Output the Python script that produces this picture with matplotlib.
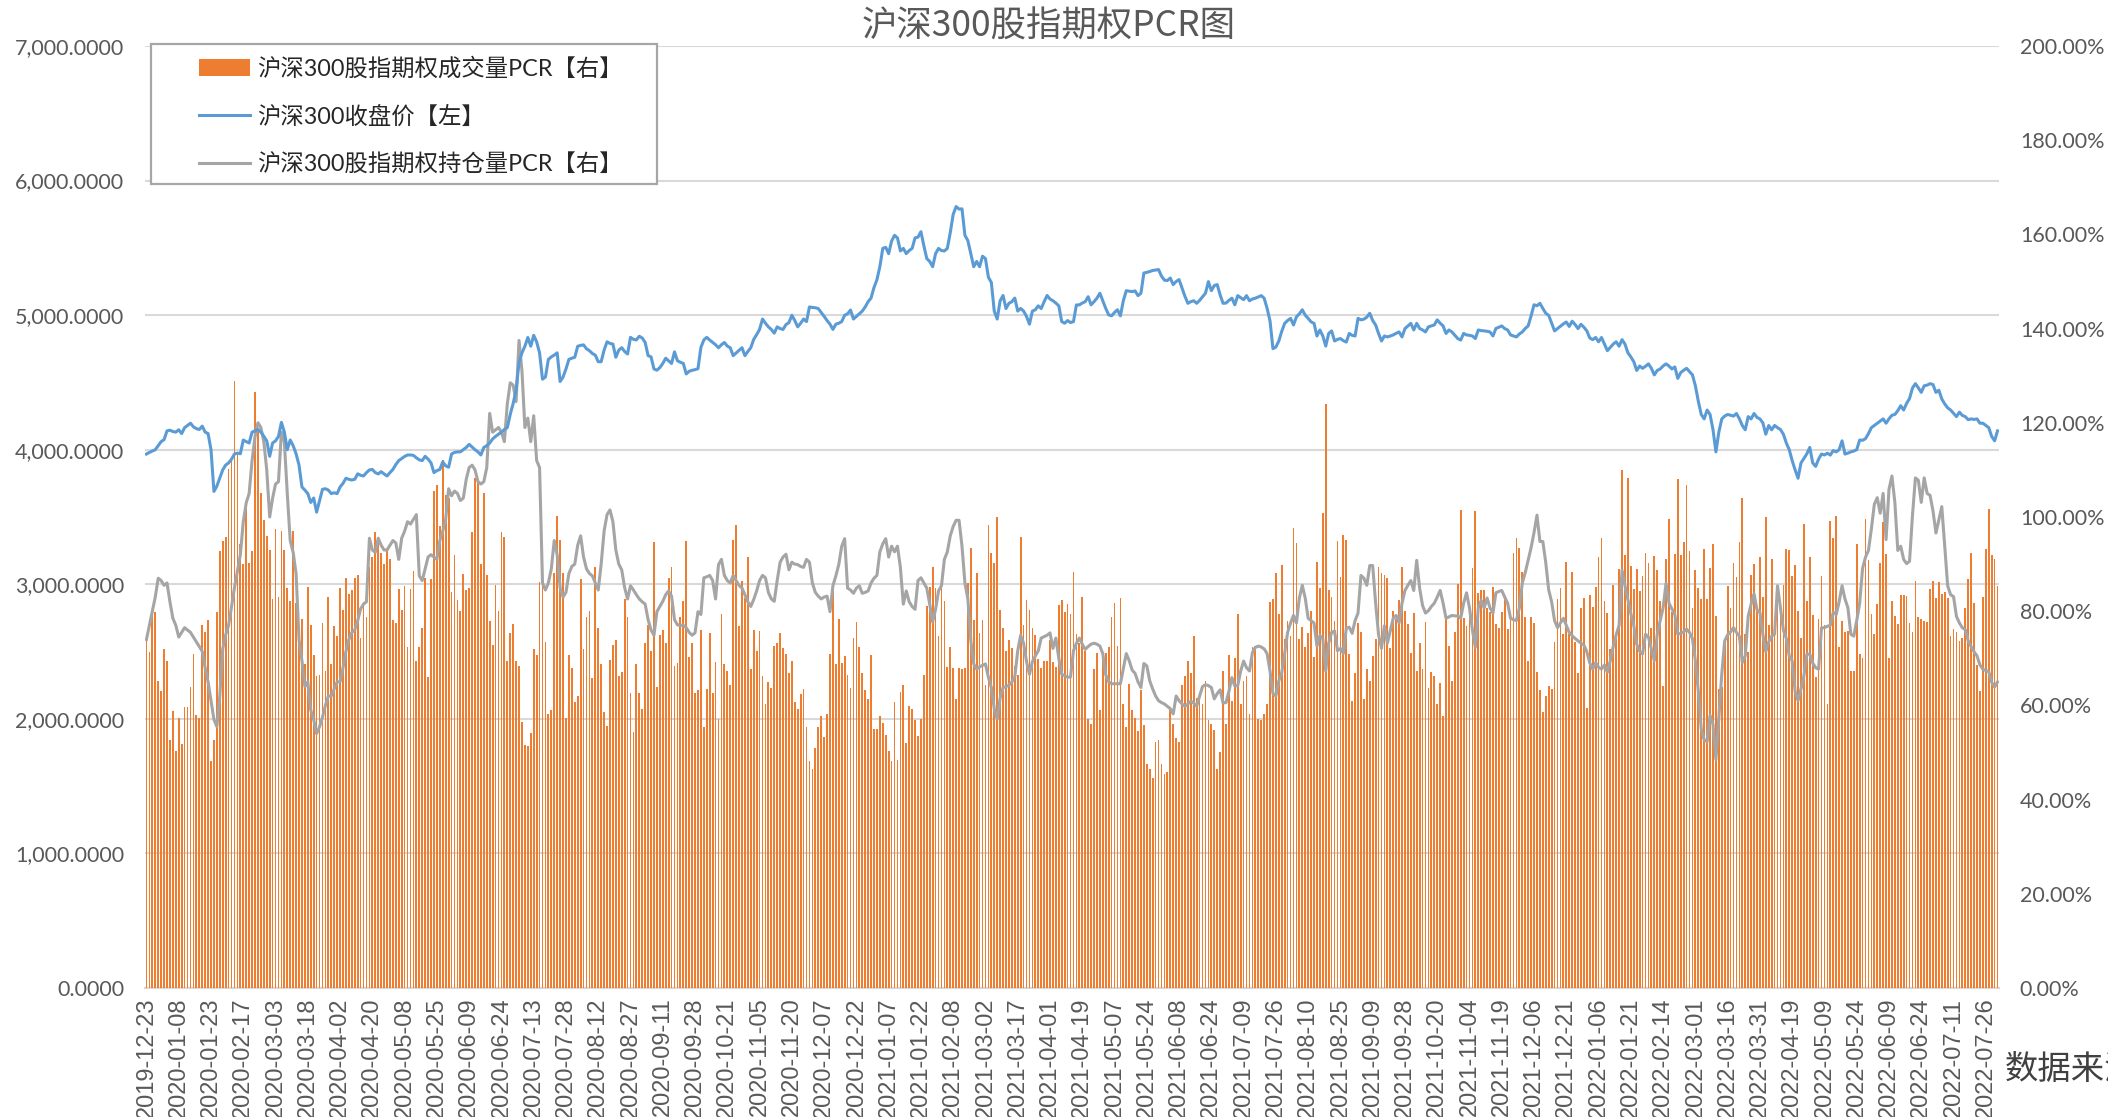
import numpy as np
import matplotlib
matplotlib.use('Agg')
from matplotlib import pyplot as plt
from matplotlib.patches import Rectangle
from matplotlib.ticker import FuncFormatter


# x axis: one category per trading day, a label every 11th day
tick_labels = [
    '2019-12-23', '2020-01-08', '2020-01-23', '2020-02-17', '2020-03-03', '2020-03-18',
    '2020-04-02', '2020-04-20', '2020-05-08', '2020-05-25', '2020-06-09', '2020-06-24',
    '2020-07-13', '2020-07-28', '2020-08-12', '2020-08-27', '2020-09-11', '2020-09-28',
    '2020-10-21', '2020-11-05', '2020-11-20', '2020-12-07', '2020-12-22', '2021-01-07',
    '2021-01-22', '2021-02-08', '2021-03-02', '2021-03-17', '2021-04-01', '2021-04-19',
    '2021-05-07', '2021-05-24', '2021-06-08', '2021-06-24', '2021-07-09', '2021-07-26',
    '2021-08-10', '2021-08-25', '2021-09-09', '2021-09-28', '2021-10-20', '2021-11-04',
    '2021-11-19', '2021-12-06', '2021-12-21', '2022-01-06', '2022-01-21', '2022-02-14',
    '2022-03-01', '2022-03-16', '2022-03-31', '2022-04-19', '2022-05-09', '2022-05-24',
    '2022-06-09', '2022-06-24', '2022-07-11', '2022-07-26',
]
label_step = 11

# 沪深300收盘价 (left axis)
close_price = [
    3968, 3980, 3990, 4000, 4030, 4060, 4075, 4140, 4145, 4135,
    4131, 4148, 4120, 4164, 4180, 4197, 4170, 4157, 4150, 4175,
    4131, 4120, 4000, 3690, 3730, 3790, 3850, 3886, 3902, 3930,
    3968, 3975, 3970, 4072, 4060, 4050, 4131, 4140, 4150, 4131,
    4100, 4066, 3951, 4050, 4066, 4099, 4203, 4131, 4000, 4072,
    4030, 3970, 3886, 3723, 3700, 3674, 3608, 3641, 3536, 3620,
    3706, 3710, 3700, 3674, 3680, 3674, 3723, 3750, 3788, 3780,
    3775, 3780, 3821, 3810, 3805, 3830, 3850, 3853, 3830, 3820,
    3837, 3820, 3805, 3830, 3853, 3890, 3919, 3935, 3950, 3961,
    3961, 3958, 3940, 3925, 3919, 3951, 3930, 3902, 3830, 3845,
    3853, 3909, 3880, 3870, 3968, 3980, 3984, 3984, 4000, 4017,
    4040, 4020, 4000, 3984, 3961, 4017, 4030, 4050, 4080, 4099,
    4115, 4131, 4150, 4164, 4262, 4344, 4442, 4650, 4720, 4769,
    4834, 4769, 4850, 4802, 4720, 4524, 4540, 4671, 4690, 4703,
    4720, 4507, 4540, 4600, 4671, 4680, 4687, 4769, 4775, 4779,
    4750, 4736, 4715, 4703, 4654, 4654, 4740, 4802, 4790, 4785,
    4687,
    4740, 4758, 4730, 4711, 4835, 4820, 4816, 4843, 4830,
    4797, 4699, 4690, 4600, 4591, 4610, 4641, 4680, 4660, 4641,
    4727, 4661, 4650, 4641, 4563, 4583, 4590, 4595, 4602, 4760,
    4816, 4835, 4815, 4797, 4780, 4758, 4780, 4797, 4770, 4758,
    4699, 4719, 4740, 4758, 4699, 4730, 4758, 4820, 4855, 4894,
    4971, 4940, 4913, 4894, 4866, 4913, 4900, 4894, 4930, 4944,
    4999, 4960, 4913, 4940, 4971, 4952, 5061, 5057, 5055, 5049,
    5020, 4991, 4960, 4933, 4894, 4933, 4940, 4952, 4999, 5010,
    5038, 4971, 4990, 5010, 5030, 5061, 5100, 5127, 5205, 5263,
    5360, 5496, 5504, 5457, 5550, 5593, 5574, 5477, 5496, 5457,
    5480, 5496, 5574, 5580, 5620, 5516, 5420, 5399, 5360, 5457,
    5496, 5480, 5477, 5496, 5613, 5749, 5807, 5788, 5790, 5593,
    5554, 5457, 5360, 5399, 5360, 5438, 5420, 5282, 5243, 5030,
    4971, 5107, 5146, 5049, 5088, 5100, 5127, 5030, 5050, 5030,
    4990, 4933, 5030, 5040, 5069, 5049, 5100, 5146, 5120, 5107,
    5090, 5069, 4952, 4940, 4960, 4945, 4952, 5076, 5076,
    5090,
    5100, 5137, 5077, 5100, 5126, 5163, 5107, 5050, 5002, 4995,
    5020, 5040, 4995, 5107, 5182, 5178, 5175, 5180, 5145, 5163,
    5313, 5318, 5324, 5332, 5335, 5339, 5290, 5260, 5257, 5276,
    5227, 5250, 5264, 5201, 5140, 5088, 5100, 5107, 5088, 5110,
    5137, 5163, 5249, 5182, 5220, 5227, 5150, 5088, 5090, 5110,
    5126, 5077, 5145, 5130, 5115, 5145, 5107, 5120, 5126, 5135,
    5145, 5126, 5051, 4957, 4751, 4763, 4808, 4880, 4939, 4960,
    4976, 4927, 4987, 5010, 5040, 5000, 4976, 4950, 4939, 4845,
    4890, 4845, 4770, 4864, 4883, 4808, 4820, 4826, 4810, 4800,
    4864, 4850, 4845, 4976, 4965, 4970, 4985, 5014, 4960, 4927,
    4864, 4808, 4845, 4838, 4845, 4853, 4865, 4875, 4838, 4900,
    4920, 4939, 4890, 4939, 4901, 4890, 4875, 4913, 4920, 4927,
    4965, 4940, 4920, 4864, 4890, 4875, 4850, 4826, 4815, 4864,
    4853, 4850, 4845, 4826, 4890, 4885, 4883, 4880, 4875, 4845,
    4901, 4910, 4920, 4900, 4890, 4853, 4845, 4838, 4860, 4875,
    4901, 4920, 4995, 5077, 5070, 5088, 5050, 5014,
    4998, 4940,
    4883, 4900, 4916, 4935, 4949, 4916, 4955, 4930, 4900, 4932,
    4910, 4883, 4830, 4818, 4834, 4802, 4834, 4785, 4736, 4760,
    4785, 4802, 4769, 4818, 4785, 4720, 4690, 4654, 4589, 4622,
    4605, 4620, 4638, 4605, 4556, 4589, 4600, 4622, 4638, 4622,
    4600, 4615, 4530, 4573, 4590, 4605, 4580, 4556, 4475, 4360,
    4262, 4229, 4295, 4262, 4150, 3984, 4131, 4229, 4250, 4262,
    4256, 4250, 4269, 4230, 4180, 4148, 4246, 4229, 4269, 4240,
    4229, 4200, 4115, 4180, 4148, 4180, 4164, 4150, 4115, 4050,
    4000, 3919, 3850, 3788, 3902, 3935, 3970, 4017, 3902, 3876,
    3930, 3968, 3961, 3974, 3960, 3994, 3984, 4000, 4066, 3968,
    3975, 3984, 3990, 4000, 4072, 4070, 4082, 4120, 4164, 4180,
    4197, 4213, 4229, 4197, 4230, 4256, 4262, 4290, 4327, 4295,
    4344, 4380, 4458, 4491, 4460, 4426, 4475, 4480, 4491, 4484,
    4426, 4442, 4377, 4340, 4311, 4295, 4270, 4246, 4279, 4255,
    4246, 4223, 4229, 4225, 4229, 4197, 4197, 4180, 4164, 4099,
    4066, 4140,
]

# 沪深300股指期权持仓量PCR, % (right axis)
oi_pcr = [
    74, 77, 80, 83, 87, 86.5, 85.5, 86, 82, 78.5,
    77, 74.5, 75.5, 76.5, 76, 75.5, 74.5, 73.5, 72.5, 71.5,
    68, 65, 61, 57, 55.5, 62, 72, 75, 77, 81,
    85, 88.5, 92, 99, 103, 105, 112, 117, 120, 119,
    116, 110, 100, 104, 107, 107.5, 118, 116, 105, 95,
    92.5, 88, 74, 69.5, 64, 65, 59, 57, 54, 55.5,
    57.5, 60, 62, 62, 63.5, 65, 65, 68, 71.5, 74,
    75.5, 76, 78, 80.5, 81.5, 82, 95.5, 93, 92.5, 95.5,
    94, 93, 93, 94, 95, 94.5, 91, 95.5, 97, 99,
    98.5, 99.5, 100.5, 87.5, 86.5, 89, 91.5, 92, 91.5, 91,
    95, 97, 99.5, 106, 104.5, 105.5, 105, 103.5, 104, 108,
    110.5, 111, 110, 107.5, 107, 107.5, 110.5, 122, 118, 118.5,
    119, 118, 116, 124, 128.5, 128, 124.5, 137.5, 131, 119,
    121, 116, 121.5, 112, 110.5, 86, 84.5, 86, 89, 95,
    92, 85, 83, 84, 88, 89.5, 90, 94, 96, 91.5,
    89, 88, 87.5, 86, 84.5, 90, 97, 100.5, 101.5, 99,
    93,
    90, 88.8, 85, 82.6, 85.4, 84.5, 83.5, 82.6, 82,
    81.5, 78.2, 76, 74.9, 79.9, 81, 82.1, 83.5, 84.3, 83.2,
    78.2, 77.1, 77, 77, 76.5, 75.5, 74.9, 75.4, 79.9, 79.3,
    87.1, 87.3, 87.6, 86.5, 82.6, 89.9, 91, 87.6, 86.5, 86,
    87.6, 86.5, 85.5, 84.9, 83.5, 82, 81, 82.5, 84.3, 86.5,
    87.6, 87.1, 84, 82.6, 82.1, 86.5, 90.4, 91.5, 92.1, 88.8,
    90.4, 90, 89.9, 89.5, 89.3, 91, 90.4, 86, 84, 83.2,
    82.6, 83, 83.2, 79.9, 85.4, 87.5, 89.9, 93.8, 95.4, 84.9,
    84.5, 83.8, 84.9, 85.4, 83.8, 84, 84.3, 86, 87, 87.6,
    92.6, 94.3, 95.4, 91.5, 93.8, 92.6, 93.8, 89.3, 81.5, 84.3,
    82, 81, 80.4, 86.5, 87.1, 86, 84.9, 81.5, 77.7, 80.4,
    84.3, 85.4, 91, 92.6, 96, 98, 99.3, 99.3, 93.8, 86,
    82.6, 73.8, 68.8, 67.7, 68.2, 68.5, 68.8, 66, 63.8, 59.3,
    57.1, 61.6, 63.8, 64, 64.3, 65, 66, 71.6, 74.9, 73.2,
    69.3, 66.6, 69.3, 70.5, 71.6, 74.3, 74.6, 74.9, 75.4, 72.1,
    74.3, 70, 66.6, 66.3, 66, 66, 71.6, 73.2, 74.3,
    73,
    71.9, 72.5, 73, 73.2, 73, 72.6, 71, 66.5, 65, 64.6,
    64.6, 64.6, 64.6, 67.8, 71, 69.5, 67.5, 66.8, 65, 63.8,
    68.9, 68.4, 65.2, 63.5, 62, 61, 60.6, 60.3, 59.8, 59.3,
    58.2, 62, 61, 60.3, 59.8, 60.3, 60.9, 60.5, 59.8, 62,
    64, 64.4, 64.2, 63.8, 61.4, 62.5, 63.3, 60.5, 60.6, 63,
    65.9, 64.1, 64.2, 67.3, 69.4, 68, 67.3, 71.2, 72.3, 72.6,
    72.4, 72, 71, 67.3, 62.5, 62, 65.2, 67, 71, 75.5,
    77.5, 79.1, 77.5, 82.8, 85.5, 82.8, 78.5, 78, 77.5, 72.6,
    74.8, 74.2, 67.3, 73.2, 75.5, 75.8, 71.6, 72.1, 71, 76.4,
    76.6, 75.3, 78, 79.6, 87.6, 87, 85.5, 89.7, 89.7, 81.7,
    75, 72.1, 76.9, 73.2, 75.8, 78.5, 79.1, 77.5, 81.7, 84.4,
    85.5, 86.5, 84.4, 90.8, 84.9, 81.2, 79.6, 80.1, 81, 81.7,
    83, 84.4, 81.7, 78.5, 78.8, 79.1, 79, 79, 78.5, 81.7,
    83.9, 80.7, 76, 72.3, 80.7, 82.3, 80.7, 82.8, 80.7, 79.6,
    83.9, 84.2, 84.4, 83, 81.7, 78.5, 78.2, 78, 80.7, 86,
    88.2, 90.8, 93.5, 96.7, 100.4, 94.8, 94.8, 90.3,
    84.5, 82,
    78, 76.5, 77.5, 78.5, 77, 75.5, 74.8, 74.2, 73.7, 73.2,
    72.8, 71.4, 69, 67.7, 69.1, 68.1, 67.7, 68.6, 67, 69.5,
    72.5, 75, 77, 88.7, 85.4, 82.5, 79.5, 77, 73, 71.5,
    70.9, 75.1, 74.5, 72, 69.5, 75.1, 78, 80.7, 85.9, 81.7,
    80.5, 79.3, 75.1, 75.3, 75.6, 76.2, 75.5, 74.2, 69.5, 63,
    55, 52.7, 52.3, 57.9, 56, 48.5, 57.4, 66.7, 73.7, 75,
    75.6, 76.5, 75.5, 74.7, 69.1, 70.5, 78.9, 81.5, 83.7, 80.3,
    79.8, 75.1, 71.4, 73.5, 74.7, 75.1, 85.4, 80.7, 76, 74.2,
    70.5, 69.5, 63, 61, 63.5, 66.3, 70.9, 70.9, 69, 68,
    67.7, 76.5, 76.5, 76.8, 77, 79.8, 79.3, 82, 85.4, 82.6,
    80.7, 75.1, 74.7, 78, 81.7, 89.1, 91.5, 92.9, 97.5, 102.7,
    104.1, 100.8, 105, 95.2, 105.9, 108.7, 103.1, 92.9, 93.8, 91,
    90.1, 90.6, 100.3, 108.3, 107.8, 103.1, 108.3, 105, 104.6, 101.3,
    96.6, 99.4, 102.2, 93.8, 85.4, 83.5, 83.1, 78.9, 77.5, 76.5,
    76.1, 73.7, 72.5, 71.4, 70.5, 68.6, 67.7, 67.4, 67.2, 64.9,
    63.9, 65,
]

# 沪深300股指期权成交量PCR, % (right axis)
vol_pcr = [
    74.2, 71.4, 79.8, 79.8, 65.1, 63.0, 71.9, 69.4, 52.7, 58.8,
    50.4, 57.4, 51.8, 59.7, 59.7, 63.9, 70.9, 57.9, 57.4, 77.0,
    75.6, 78.1, 48.2, 52.7, 79.8, 92.7, 95.0, 95.7, 110.2, 112.5,
    128.8, 113.9, 94.3, 90.1, 103.1, 90.3, 92.7, 126.5, 119.0, 105.2,
    99.4, 95.9, 92.9, 82.6, 97.4, 83.1, 97.1, 92.9, 84.9, 82.1,
    97.1, 81.7, 76.1, 78.4, 68.8, 85.2, 77.0, 70.7, 66.3, 66.5,
    77.5, 67.4, 83.1, 68.8, 76.8, 74.7, 84.9, 80.3, 87.1, 83.7,
    84.5, 87.1, 87.7, 74.4, 81.9, 78.7, 89.3, 91.5, 96.8, 95.0,
    92.4, 90.1, 93.1, 91.0, 78.1, 77.5, 84.7, 80.2, 85.4, 72.3,
    84.7, 88.5, 69.4, 72.3, 76.5, 87.1, 66.0, 86.8, 105.5, 106.9,
    98.0, 112.0, 104.6, 104.1, 84.0, 91.9, 82.4, 80.0, 88.0, 84.5,
    84.9, 96.8, 108.3, 107.3, 90.1, 105.0, 87.7, 77.9, 72.8, 85.6,
    80.0, 96.8, 95.7, 69.5, 75.3, 77.2, 69.4, 68.4, 56.5, 51.6,
    51.3, 54.1, 71.9, 70.7, 86.3, 88.2, 73.5, 58.1, 59.1, 88.2,
    100.3, 95.2, 88.2, 57.4, 70.7, 67.9, 60.7, 61.9, 86.8, 71.9,
    78.7, 80.0, 65.8, 89.3, 76.5, 68.8, 58.5, 55.7, 69.7, 72.8,
    73.8, 66.2, 67.1, 82.6, 78.8, 62.7, 54.3, 68.8, 62.7, 59.3,
    73.2, 77.1, 71.6, 94.6, 64.0, 74.9, 76.0, 73.2, 87.1, 89.3,
    68.4, 69.1, 78.8, 82.1, 94.9, 70.2, 73.2, 62.7, 63.2, 76.0,
    55.4, 63.5, 75.4, 62.7, 69.3, 57.1, 79.3, 68.8, 67.3, 64.3,
    95.1, 98.4, 76.9, 86.5, 82.9, 91.5, 67.7, 76.0, 71.6, 75.8,
    66.2, 60.4, 64.9, 63.8, 72.7, 73.2, 75.4, 72.1, 71.0, 66.9,
    69.5, 60.7, 59.3, 62.4, 63.5, 55.4, 48.2, 46.6, 51.0, 55.4,
    57.7, 53.2, 58.2, 71.0, 85.8, 68.8, 78.4, 69.1, 70.4, 66.5,
    63.8, 74.3, 77.7, 72.4, 66.9, 63.2, 61.3, 70.7, 54.9, 54.9,
    57.7, 56.2, 53.8, 50.4, 48.2, 60.7, 48.4, 62.9, 64.3, 52.1,
    59.9, 59.3, 56.9, 53.6, 57.1, 66.5, 81.0, 85.1, 89.3, 84.9,
    74.7, 85.4, 82.1, 68.2, 72.4, 68.0, 61.3, 68.0, 67.7, 68.0,
    86.0, 93.5, 78.2, 88.2, 75.4, 78.2, 64.3, 98.2, 92.4, 90.2,
    99.9, 80.2, 76.5, 71.6, 73.8, 72.1, 68.4, 66.5, 95.8, 77.1,
    82.4, 80.2, 76.5, 74.9, 69.9, 68.0, 69.5, 69.5, 73.8, 69.3,
    68.2, 81.3, 82.4, 79.9, 81.5, 79.5, 88.4, 75.1, 73.2,
    83.0, 71.6, 57.1, 56.1, 67.8, 71.2, 59.1, 71.2, 71.2, 72.3,
    78.7, 81.7, 72.6, 82.8, 60.3, 55.5, 64.6, 59.1, 57.3, 54.5,
    63.3, 55.8, 47.5, 46.4, 44.5, 52.3, 52.6, 47.5, 45.4, 45.9,
    59.3, 56.1, 53.1, 52.3, 64.4, 66.2, 69.4, 66.8, 74.8, 61.6,
    62.5, 60.3, 65.2, 56.9, 56.1, 54.8, 46.6, 50.2, 67.3, 56.1,
    70.8, 60.9, 70.0, 79.4, 60.3, 65.2, 66.2, 58.2, 72.3, 72.6,
    57.1, 56.9, 58.2, 60.3, 82.0, 82.6, 88.1, 79.4, 89.8, 74.2,
    78.0, 74.8, 97.6, 94.4, 74.2, 76.6, 72.3, 75.3, 80.0, 70.2,
    90.5, 85.0, 100.8, 124.0, 84.4, 83.0, 78.0, 94.8, 87.3, 96.2,
    95.1, 71.0, 60.9, 66.8, 77.5, 75.5, 61.4, 67.8, 65.2, 70.5,
    74.0, 89.4, 88.1, 87.6, 87.1, 72.1, 80.1, 78.3, 82.3, 89.4,
    80.1, 77.2, 71.2, 79.6, 67.3, 73.2, 67.8, 77.7, 63.8, 67.0,
    66.2, 60.3, 64.8, 57.7, 78.7, 72.6, 65.2, 75.5, 85.8, 101.5,
    78.5, 76.9, 79.4, 89.2, 101.2, 83.9, 84.4, 84.4, 80.7, 79.8,
    85.2, 77.2, 76.4, 79.8, 82.8, 76.2, 78.7, 92.4, 95.6, 93.5,
    88.4, 78.7, 69.4, 78.7, 77.5, 67.0, 63.3, 58.7, 61.9,
    64.1, 63.5, 73.5, 82.6, 84.9, 75.1, 90.5, 75.1, 88.4, 73.5,
    66.9, 80.7, 82.8, 59.4, 83.4, 80.9, 85.2, 91.5, 95.5, 82.1,
    79.6, 71.9, 85.6, 75.0, 88.9, 109.9, 91.9, 108.3, 89.6, 84.7,
    88.9, 84.3, 87.4, 92.4, 90.3, 76.5, 91.8, 88.7, 82.1, 64.1,
    91.0, 99.6, 79.8, 92.1, 108.0, 91.9, 94.6, 106.9, 92.7, 80.6,
    88.7, 84.9, 82.6, 93.3, 82.6, 89.1, 94.3, 78.9, 63.5, 63.9,
    74.2, 85.4, 80.7, 90.3, 87.3, 94.7, 104.1, 75.1, 71.4, 87.7,
    90.1, 80.9, 91.5, 83.1, 99.9, 77.0, 91.0, 75.6, 85.4, 80.9,
    85.6, 93.3, 92.9, 87.5, 89.9, 80.0, 74.4, 98.5, 82.1, 91.5,
    79.1, 66.0, 78.4, 87.5, 77.0, 60.2, 99.2, 95.5, 100.3, 72.5,
    77.9, 75.6, 75.9, 67.2, 67.2, 94.3, 70.9, 70.0, 99.6, 90.8,
    79.3, 75.1, 81.5, 90.3, 99.0, 92.1, 70.0, 82.1, 78.9, 77.2,
    83.5, 83.5, 83.3, 77.5, 75.6, 86.5, 78.7, 78.4, 77.9, 77.8,
    84.7, 86.5, 82.8, 86.3, 83.7, 84.0, 82.8, 74.7, 76.3, 75.6,
    73.7, 74.4, 80.7, 86.8, 92.4, 81.7, 68.6, 63.0, 83.1, 93.3,
    101.7, 91.9, 91.0, 85.4,
]

series_names = ['沪深300股指期权成交量PCR【右】', '沪深300收盘价【左】', '沪深300股指期权持仓量PCR【右】']

plt.rcParams['font.family'] = ['Lato', 'Noto Sans CJK SC', 'DejaVu Sans']

W, H = 2108, 1117
fig = plt.figure(figsize=(W / 100, H / 100), dpi=100)
ax = fig.add_axes([145 / W, 1 - 988 / H, 1854 / W, 942 / H])
ax2 = ax.twinx()

n = len(vol_pcr)
bars = ax2.bar(np.arange(n), vol_pcr, width=0.6, color='#ED7D31', linewidth=0, zorder=1)
oi_line, = ax2.plot(np.arange(len(oi_pcr)), oi_pcr, color='#A5A5A5', lw=2.2, zorder=2)
# the close line lives on ax2 so it is drawn above the bars, but uses the left scale
close_line, = ax2.plot(np.arange(len(close_price)), close_price, color='#5B9BD5', lw=2.2,
                       zorder=3, transform=ax.transData)

ax.set_xlim(-0.5, n - 0.5)
ax.set_ylim(0, 7000)
ax2.set_ylim(0, 200)
ax.set_yticks(np.arange(0, 7001, 1000))
ax2.set_yticks(np.arange(0, 201, 20))
ax.yaxis.set_major_formatter(FuncFormatter(lambda v, p: f'{v:,.4f}'))
ax2.yaxis.set_major_formatter(FuncFormatter(lambda v, p: f'{v:.2f}%'))

ax.set_xticks(np.arange(len(tick_labels)) * label_step)
ax.set_xticklabels(tick_labels, rotation=90, fontfamily='Liberation Sans', fontsize=17,
                   color='#595959', va='top')

ax.yaxis.grid(True, color='#D9D9D9', lw=1.5)
ax.set_axisbelow(True)

for a in (ax, ax2):
    for s in a.spines.values():
        s.set_visible(False)
    a.tick_params(axis='y', length=0, pad=15, labelsize=15.5, labelcolor='#595959')
ax.spines['bottom'].set_visible(True)
ax.spines['bottom'].set_color('#D9D9D9')
ax.spines['bottom'].set_linewidth(1.5)
ax.tick_params(axis='x', length=0, pad=7)

# legend box
frame = Rectangle((151 / W, 1 - 184 / H), 506 / W, 140 / H, transform=fig.transFigure,
                  facecolor='white', edgecolor='#A6A6A6', lw=1.6, zorder=4, clip_on=False)
ax2.add_patch(frame)
leg = ax2.legend([bars, close_line, oi_line], series_names, loc='upper left',
                 bbox_to_anchor=(199 / W, 1 - 57 / H), bbox_transform=fig.transFigure,
                 frameon=False, borderpad=0, borderaxespad=0, handlelength=2.2,
                 handletextpad=0.3, labelspacing=1.1,
                 prop={'family': ['Lato', 'Noto Sans CJK SC'], 'size': 16.8})
leg.set_zorder(5)
for t in leg.get_texts():
    t.set_color('#262626')

fig.text(1049 / W, 1 - 27 / H, '沪深300股指期权PCR图', ha='center', va='center', fontsize=25.5,
         color='#595959', family=['Noto Sans CJK SC'], fontweight='light')
fig.text(2005 / W, 1 - 1069 / H, '数据来源', ha='left', va='center', fontsize=24,
         color='#404040', family=['Noto Sans CJK SC'], style='italic')

fig.savefig('out.png', dpi=100)
